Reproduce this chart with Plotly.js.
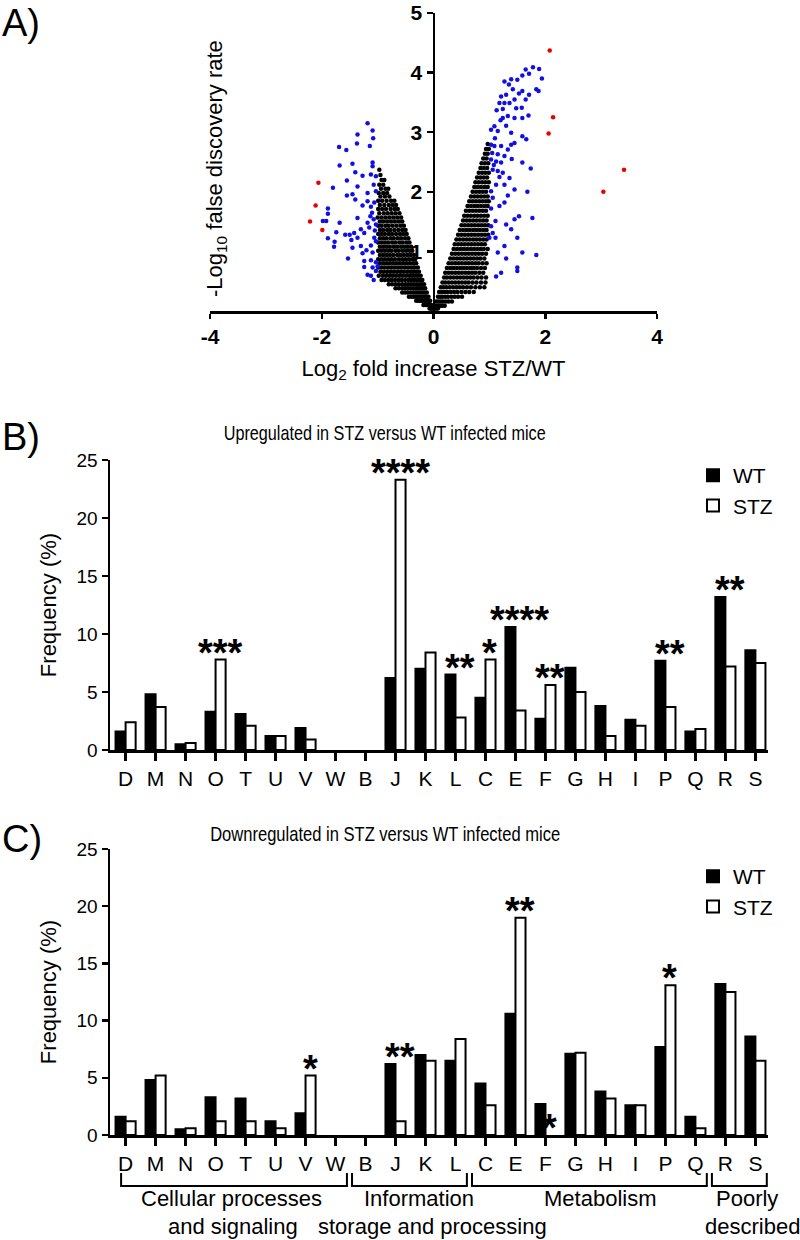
<!DOCTYPE html>
<html>
<head>
<meta charset="utf-8">
<script src="https://cdn.plot.ly/plotly-3.0.1.min.js"></script>
<style>html,body{margin:0;padding:0;background:#fff;}#chart{width:800px;height:1240px;}</style>
</head>
<body>
<div id="chart"></div>
<script>
// ---------- Panel A: volcano plot ----------
// Not significant (black) points, rows of [y, [x values]]
const nsRowsLeft = [
  [2.37, [-0.97]],
  [2.28, [-0.95]],
  [2.2, [-0.93, -0.88]],
  [2.12, [-0.97, -0.9]],
  [2.05, [-0.94, -0.86, -0.81]],
  [1.98, [-0.98, -0.9, -0.83]],
  [1.92, [-0.95, -0.87, -0.79]],
  [1.85, [-0.99, -0.92, -0.84, -0.76, -0.7]],
  [1.78, [-0.96, -0.88, -0.8, -0.73, -0.67]],
  [1.71, [-0.99, -0.92, -0.85, -0.77, -0.7, -0.64]],
  [1.64, [-0.97, -0.89, -0.82, -0.75, -0.68, -0.61]],
  [1.57, [-1.0, -0.93, -0.86, -0.79, -0.72, -0.65, -0.58]],
  [1.5, [-0.96, -0.9, -0.83, -0.76, -0.69, -0.62, -0.56]],
  [1.43, [-0.99, -0.93, -0.86, -0.8, -0.73, -0.66, -0.59, -0.53]],
  [1.36, [-0.96, -0.9, -0.83, -0.77, -0.7, -0.63, -0.56, -0.5]],
  [1.29, [-0.99, -0.93, -0.87, -0.8, -0.74, -0.67, -0.6, -0.54, -0.48]],
  [1.22, [-0.96, -0.9, -0.84, -0.77, -0.71, -0.64, -0.58, -0.51, -0.45]],
  [1.15, [-0.99, -0.93, -0.87, -0.81, -0.74, -0.68, -0.61, -0.55, -0.48, -0.43]],
  [1.08, [-0.96, -0.9, -0.84, -0.78, -0.71, -0.65, -0.58, -0.52, -0.46, -0.4]],
  [1.01, [-0.99, -0.93, -0.87, -0.81, -0.75, -0.68, -0.62, -0.55, -0.49, -0.43, -0.38]],
  [0.94, [-0.96, -0.9, -0.84, -0.78, -0.72, -0.65, -0.59, -0.53, -0.47, -0.41, -0.35]],
  [0.87, [-0.99, -0.93, -0.87, -0.81, -0.75, -0.69, -0.62, -0.56, -0.5, -0.44, -0.38, -0.33]],
  [0.8, [-0.96, -0.9, -0.84, -0.78, -0.72, -0.66, -0.6, -0.54, -0.48, -0.42, -0.36, -0.31]],
  [0.73, [-0.99, -0.93, -0.87, -0.81, -0.75, -0.69, -0.63, -0.57, -0.51, -0.45, -0.39, -0.34, -0.28]],
  [0.66, [-0.95, -0.89, -0.83, -0.77, -0.71, -0.65, -0.59, -0.53, -0.47, -0.41, -0.36, -0.31, -0.26]],
  [0.59, [-0.98, -0.91, -0.85, -0.79, -0.73, -0.67, -0.61, -0.55, -0.49, -0.43, -0.38, -0.33, -0.28, -0.23]],
  [0.52, [-0.93, -0.87, -0.81, -0.75, -0.69, -0.63, -0.57, -0.51, -0.45, -0.4, -0.35, -0.3, -0.25, -0.2]],
  [0.45, [-0.8, -0.74, -0.68, -0.62, -0.56, -0.5, -0.45, -0.4, -0.35, -0.3, -0.25, -0.21, -0.17]],
  [0.38, [-0.68, -0.62, -0.56, -0.51, -0.46, -0.41, -0.36, -0.31, -0.27, -0.23, -0.19, -0.15]],
  [0.31, [-0.56, -0.51, -0.46, -0.41, -0.36, -0.32, -0.28, -0.24, -0.2, -0.16, -0.12]],
  [0.24, [-0.44, -0.39, -0.35, -0.31, -0.27, -0.23, -0.19, -0.15, -0.12, -0.09]],
  [0.17, [-0.31, -0.27, -0.23, -0.2, -0.17, -0.14, -0.11, -0.08, -0.06]],
  [0.1, [-0.18, -0.15, -0.12, -0.1, -0.08, -0.06, -0.04]],
  [0.04, [-0.07, -0.05, -0.03, -0.02]]
];
const nsRowsRight = [
  [2.8, [0.97]],
  [2.72, [0.94, 0.99]],
  [2.64, [0.92, 0.97]],
  [2.56, [0.89, 0.95]],
  [2.48, [0.86, 0.92, 0.98]],
  [2.4, [0.84, 0.9, 0.96]],
  [2.32, [0.81, 0.87, 0.93, 0.99]],
  [2.24, [0.78, 0.84, 0.9, 0.96]],
  [2.16, [0.75, 0.81, 0.87, 0.93, 0.99]],
  [2.08, [0.73, 0.79, 0.85, 0.91, 0.97]],
  [2.0, [0.7, 0.76, 0.82, 0.88, 0.94]],
  [1.92, [0.67, 0.73, 0.79, 0.85, 0.91, 0.97]],
  [1.84, [0.64, 0.7, 0.76, 0.82, 0.88, 0.94, 0.99]],
  [1.76, [0.61, 0.67, 0.73, 0.79, 0.85, 0.91, 0.97]],
  [1.68, [0.58, 0.64, 0.7, 0.76, 0.82, 0.88, 0.94]],
  [1.6, [0.55, 0.61, 0.67, 0.73, 0.79, 0.85, 0.91, 0.97]],
  [1.52, [0.53, 0.59, 0.65, 0.71, 0.77, 0.83, 0.89, 0.95]],
  [1.44, [0.5, 0.56, 0.62, 0.68, 0.74, 0.8, 0.86, 0.92, 0.98]],
  [1.36, [0.47, 0.53, 0.59, 0.65, 0.71, 0.77, 0.83, 0.89, 0.95]],
  [1.28, [0.44, 0.5, 0.56, 0.62, 0.68, 0.74, 0.8, 0.86, 0.92, 0.98]],
  [1.2, [0.41, 0.47, 0.53, 0.59, 0.65, 0.71, 0.77, 0.83, 0.89, 0.95]],
  [1.12, [0.38, 0.44, 0.5, 0.56, 0.62, 0.68, 0.74, 0.8, 0.86, 0.92]],
  [1.04, [0.36, 0.42, 0.48, 0.54, 0.6, 0.66, 0.72, 0.78, 0.84, 0.9, 0.97]],
  [0.96, [0.33, 0.39, 0.45, 0.51, 0.57, 0.63, 0.69, 0.75, 0.81, 0.87, 0.94]],
  [0.88, [0.3, 0.36, 0.42, 0.48, 0.54, 0.6, 0.66, 0.72, 0.78, 0.84, 0.91]],
  [0.8, [0.27, 0.33, 0.39, 0.45, 0.51, 0.57, 0.63, 0.69, 0.75, 0.81, 0.88, 0.95]],
  [0.72, [0.24, 0.3, 0.36, 0.42, 0.48, 0.54, 0.6, 0.66, 0.72, 0.78, 0.85, 0.92]],
  [0.64, [0.21, 0.27, 0.33, 0.39, 0.45, 0.51, 0.57, 0.63, 0.69, 0.75, 0.82, 0.89]],
  [0.56, [0.19, 0.24, 0.3, 0.36, 0.42, 0.48, 0.54, 0.6, 0.66, 0.72, 0.79, 0.86, 0.94]],
  [0.48, [0.16, 0.21, 0.27, 0.33, 0.39, 0.45, 0.51, 0.57, 0.63, 0.7, 0.77, 0.85, 0.93]],
  [0.4, [0.13, 0.18, 0.23, 0.29, 0.35, 0.41, 0.47, 0.53, 0.6, 0.67, 0.75, 0.83, 0.91]],
  [0.32, [0.1, 0.15, 0.2, 0.25, 0.31, 0.37, 0.43, 0.5, 0.57, 0.64, 0.72]],
  [0.24, [0.08, 0.12, 0.16, 0.21, 0.26, 0.32, 0.38, 0.44, 0.51]],
  [0.16, [0.05, 0.09, 0.13, 0.17, 0.22, 0.27, 0.33]],
  [0.09, [0.03, 0.06, 0.09, 0.12, 0.16, 0.2]],
  [0.04, [0.01, 0.03, 0.05, 0.08]]
];
// Significant (blue) points [x, y]
const sigDown = [
  [-1.18,3.15],[-1.09,3.03],[-1.36,2.96],[-1.08,2.9],[-1.69,2.75],[-1.56,2.70],[-1.14,2.77],[-1.37,2.81],
  [-1.45,2.47],[-1.68,2.44],[-1.09,2.49],[-1.09,2.43],[-1.40,2.33],[-1.27,2.27],[-1.12,2.29],[-1.03,2.26],
  [-1.55,2.19],[-1.36,2.09],[-1.07,2.12],[-1.80,2.07],[-1.55,1.94],[-1.45,1.96],[-1.40,1.87],[-1.18,1.98],
  [-1.03,2.01],[-1.18,1.84],[-1.27,1.77],[-1.06,1.82],[-1.12,1.75],[-1.89,1.72],[-1.89,1.63],[-1.98,1.51],
  [-1.92,1.51],[-1.68,1.48],[-1.36,1.56],[-1.13,1.59],[-1.07,1.54],[-1.18,1.48],[-1.03,1.45],[-1.74,1.32],
  [-1.58,1.28],[-1.50,1.28],[-1.42,1.31],[-1.30,1.37],[-1.24,1.31],[-1.89,1.22],[-1.77,1.16],[-1.47,1.19],
  [-1.36,1.23],[-1.06,1.23],[-1.03,1.17],[-1.78,1.08],[-1.45,1.06],[-1.30,1.09],[-1.12,1.10],[-1.27,0.97],
  [-1.09,0.98],[-1.53,0.88],[-1.24,0.84],[-1.12,0.85],[-1.03,0.82],[-1.24,0.74],[-1.09,0.73],[-1.03,0.67],
  [-1.18,0.61],[-1.07,0.52],[-1.12,0.59],[-1.00,0.75],[-1.10,1.65],[-1.15,1.40],[-1.05,1.35],[-1.20,1.02]
];
const sigUp = [
  [1.89,4.06],[1.78,4.09],[1.94,3.90],[1.65,4.05],[1.71,3.98],[1.59,3.95],[1.50,3.88],[1.39,3.89],
  [1.27,3.85],[1.84,3.72],[1.88,3.69],[1.71,3.63],[1.59,3.69],[1.53,3.65],[1.42,3.72],[1.30,3.63],
  [1.21,3.60],[1.65,3.55],[1.45,3.55],[1.36,3.49],[1.27,3.49],[1.18,3.49],[1.58,3.41],[1.24,3.39],
  [1.13,3.37],[1.33,3.27],[1.45,3.24],[1.59,3.24],[1.70,3.28],[1.24,3.24],[1.09,3.10],[1.30,3.11],
  [1.03,3.04],[1.15,3.02],[1.39,2.99],[1.59,2.93],[1.66,2.88],[1.45,2.82],[1.03,2.79],[1.09,2.77],
  [1.21,2.77],[1.33,2.71],[1.39,2.79],[1.15,2.63],[1.27,2.60],[1.03,2.54],[1.12,2.51],[1.21,2.49],
  [1.59,2.49],[1.74,2.39],[1.06,2.37],[1.15,2.35],[1.24,2.32],[1.36,2.23],[1.27,2.12],[1.12,2.12],
  [1.68,2.00],[1.45,2.04],[1.03,2.01],[1.06,1.90],[1.33,1.94],[1.27,1.82],[1.18,1.76],[1.03,1.72],
  [1.53,1.59],[1.77,1.56],[1.45,1.54],[1.11,1.51],[1.30,1.45],[1.03,1.42],[1.39,1.37],[1.06,1.31],
  [1.00,1.23],[1.11,1.23],[1.50,1.23],[1.27,1.09],[1.15,0.98],[1.59,0.98],[1.30,0.88],[1.84,0.94],
  [1.50,0.73],[1.50,0.67],[1.21,0.64],[1.12,0.58],[1.35,3.80],[1.48,3.40],[1.10,2.90],[1.20,3.20],
  [1.05,2.65],[1.18,2.25],[1.40,2.55],[1.08,2.45]
];
// Extreme (red) points [x, y]
const extreme = [
  [2.08,4.37],[2.14,3.25],[2.06,2.98],[3.41,2.37],[3.04,2.00],
  [-2.06,2.15],[-2.11,1.77],[-2.21,1.50],[-1.99,1.36]
];
const volcanoXTicks = [-4, -2, 0, 2, 4];
const volcanoXTickText = ['-4', '-2', '0', '2', '4'];
const volcanoYTicks = [1, 2, 3, 4, 5];

// ---------- Panels B and C: COG category frequencies ----------
const categories = ['D','M','N','O','T','U','V','W','B','J','K','L','C','E','F','G','H','I','P','Q','R','S'];
const upWT   = [1.6,4.8,0.5,3.3,3.1,1.2,1.9,0,0,6.2,7.0,6.5,4.5,10.6,2.7,7.1,3.8,2.6,7.7,1.6,13.2,8.6];
const upSTZ  = [2.4,3.7,0.6,7.8,2.1,1.2,0.9,0,0,23.3,8.4,2.8,7.8,3.4,5.6,5.0,1.2,2.1,3.7,1.8,7.2,7.5];
const downWT = [1.6,4.8,0.5,3.3,3.2,1.2,1.9,0,0,6.2,7.0,6.5,4.5,10.6,2.7,7.1,3.8,2.6,7.7,1.6,13.2,8.6];
const downSTZ= [1.2,5.2,0.6,1.2,1.2,0.6,5.2,0,0,1.2,6.5,8.4,2.6,19.0,0,7.2,3.2,2.6,13.1,0.6,12.5,6.5];
const freqTicks = [0, 5, 10, 15, 20, 25];
// significance marks: [category, stars, bar that carries the mark]
const upSig   = [['O','***','max'],['J','****','max'],['L','**','max'],['C','*','max'],['E','****','max'],['F','**','max'],['P','**','max'],['R','**','max']];
const downSig = [['V','*','max'],['J','**','max'],['E','**','max'],['F','*','stz'],['P','*','max']];
// category groups under panel C: [label lines, first category, last category]
const groups = [
  [['Cellular processes','and signaling'], 'D', 'W'],
  [['Information','storage and processing'], 'B', 'L'],
  [['Metabolism'], 'C', 'Q'],
  [['Poorly','described'], 'R', 'S']
];
const seriesNames = ['WT', 'STZ'];
const upTitle = 'Upregulated in STZ versus WT infected mice';
const downTitle = 'Downregulated in STZ versus WT infected mice';

// ---------- helpers ----------
const W = 800, H = 1240;
const px = x => x / W;
const py = y => 1 - y / H;
const FONT = 'Liberation Sans, Arial, Helvetica, sans-serif';

function flattenRows(rows) {
  const xs = [], ys = [];
  rows.forEach(([y, list]) => list.forEach(x => { xs.push(x); ys.push(y); }));
  return {xs, ys};
}
const nsL = flattenRows(nsRowsLeft), nsR = flattenRows(nsRowsRight);
const sigAll = sigDown.concat(sigUp);
const outline = vals => vals.map(v => v > 0 ? 2 : 0);

const traces = [
  {type:'scatter', mode:'markers', x: nsL.xs.concat(nsR.xs), y: nsL.ys.concat(nsR.ys),
   marker:{color:'#000', size:4.5}, xaxis:'x', yaxis:'y', showlegend:false, hoverinfo:'skip'},
  {type:'scatter', mode:'markers', x: sigAll.map(p=>p[0]), y: sigAll.map(p=>p[1]),
   marker:{color:'#1010e6', size:4.5}, xaxis:'x', yaxis:'y', showlegend:false, hoverinfo:'skip'},
  {type:'scatter', mode:'markers', x: extreme.map(p=>p[0]), y: extreme.map(p=>p[1]),
   marker:{color:'#e60000', size:4.5}, xaxis:'x', yaxis:'y', showlegend:false, hoverinfo:'skip'},

  {type:'bar', name:seriesNames[0], x:categories, y:upWT, xaxis:'x2', yaxis:'y2', legend:'legend',
   marker:{color:'#000', line:{color:'#000', width:outline(upWT)}}},
  {type:'bar', name:seriesNames[1], x:categories, y:upSTZ, xaxis:'x2', yaxis:'y2', legend:'legend',
   marker:{color:'#fff', line:{color:'#000', width:outline(upSTZ)}}},
  {type:'bar', name:seriesNames[0], x:categories, y:downWT, xaxis:'x3', yaxis:'y3', legend:'legend2',
   marker:{color:'#000', line:{color:'#000', width:outline(downWT)}}},
  {type:'bar', name:seriesNames[1], x:categories, y:downSTZ, xaxis:'x3', yaxis:'y3', legend:'legend2',
   marker:{color:'#fff', line:{color:'#000', width:outline(downSTZ)}}}
];

const axLine = {showline:true, linecolor:'#000', linewidth:2.5, showgrid:false, zeroline:false,
                ticks:'outside', tickcolor:'#000', tickwidth:2.5, fixedrange:true, ticklabeloverflow:'allow'};

const barX = (dom, anchor) => Object.assign({}, axLine, {
  domain: dom, anchor: anchor, type:'category', range:[-0.52, 21.42], ticklen:8,
  tickfont:{family:FONT, size:21, color:'#000'}
});
const barY = (dom, anchor) => Object.assign({}, axLine, {
  domain: dom, anchor: anchor, range:[0,25], tickvals:freqTicks, ticklen:6,
  tickfont:{family:FONT, size:19, color:'#000'},
  title:{text:'Frequency (%)', font:{family:FONT, size:22, color:'#000'}, standoff:14}
});

const annotations = [
  {text:'A)', x:0, y:py(0), xref:'paper', yref:'paper', xanchor:'left', yanchor:'top', showarrow:false, font:{family:FONT, size:38}},
  {text:'B)', x:0, y:py(437), xref:'paper', yref:'paper', xanchor:'left', yanchor:'middle', showarrow:false, font:{family:FONT, size:38}},
  {text:'C)', x:0, y:py(839), xref:'paper', yref:'paper', xanchor:'left', yanchor:'middle', showarrow:false, font:{family:FONT, size:38}},
  {text:'-Log<sub>10</sub> false discovery rate', x:px(216), y:py(169), xref:'paper', yref:'paper', textangle:-90,
   xanchor:'center', yanchor:'middle', showarrow:false, font:{family:FONT, size:22}},
  {text:upTitle, x:px(384), y:py(433), xref:'paper', yref:'paper', xanchor:'center', yanchor:'middle', showarrow:false, font:{family:FONT, size:21}},
  {text:downTitle, x:px(385), y:py(833), xref:'paper', yref:'paper', xanchor:'center', yanchor:'middle', showarrow:false, font:{family:FONT, size:21}}
];

function addSig(list, wt, stz, xa, ya) {
  list.forEach(([cat, stars, over]) => {
    const i = categories.indexOf(cat);
    const base = over === 'stz' ? stz[i] : Math.max(wt[i], stz[i]);
    annotations.push({text:stars, x:i + 0.15, y:base, xref:xa, yref:ya, xanchor:'center', yanchor:'bottom',
      yshift:-16, showarrow:false, font:{family:FONT, size:38, weight:'bold', color:'#000'}});
  });
}
addSig(upSig, upWT, upSTZ, 'x2', 'y2');
addSig(downSig, downWT, downSTZ, 'x3', 'y3');

const shapes = [];
const brTop = 1173, brBot = 1186, lineY = [1198, 1226];
groups.forEach(([lines, c0, c1], gi) => {
  const i0 = categories.indexOf(c0) - (gi === 0 ? 0.15 : 0.45);
  const i1 = categories.indexOf(c1) + 0.38;
  shapes.push({type:'path', xref:'x3', yref:'paper',
    path:`M${i0},${py(brTop)} L${i0},${py(brBot)} L${i1},${py(brBot)} L${i1},${py(brTop)}`,
    line:{color:'#000', width:2}});
});
// group labels
const groupLabelPos = [[232, 233], [419, 432], [600], [747, 752]];
groups.forEach(([lines], gi) => {
  lines.forEach((t, li) => {
    annotations.push({text:t, x:px(groupLabelPos[gi][li]), y:py(lineY[li]), xref:'paper', yref:'paper',
      xanchor:'center', yanchor:'middle', showarrow:false, font:{family:FONT, size:22, color:'#000'}});
  });
});

const legendStyle = {xanchor:'left', yanchor:'top', bgcolor:'rgba(0,0,0,0)', borderwidth:0,
  font:{family:FONT, size:21, color:'#000'}, tracegroupgap:0, itemclick:false, itemdoubleclick:false};

const layout = {
  width:W, height:H, margin:{l:0, r:0, t:0, b:0},
  paper_bgcolor:'#fff', plot_bgcolor:'rgba(0,0,0,0)',
  font:{family:FONT, color:'#000'},
  barmode:'group', bargap:0.33, bargroupgap:0,
  showlegend:true,
  xaxis: Object.assign({}, axLine, {
    domain:[px(210), px(657)], anchor:'y', range:[-4,4], ticklen:5,
    tickvals:volcanoXTicks, ticktext:volcanoXTickText.map(t => '<b>' + t + '</b>'),
    tickfont:{family:FONT, size:21, color:'#000'},
    title:{text:'Log<sub>2</sub> fold increase STZ/WT', font:{family:FONT, size:22, color:'#000'}, standoff:14}
  }),
  yaxis: Object.assign({}, axLine, {
    domain:[py(311), py(13)], anchor:'free', position:(px(210)+px(657))/2, range:[0,5],
    tickvals:volcanoYTicks, ticktext:volcanoYTicks.map(t => '<b>' + t + '</b>'), ticklen:6,
    tickfont:{family:FONT, size:21, color:'#000'}
  }),
  xaxis2: barX([px(110), px(768)], 'y2'),
  yaxis2: barY([py(750), py(460)], 'x2'),
  xaxis3: barX([px(110), px(768)], 'y3'),
  yaxis3: barY([py(1135), py(849)], 'x3'),
  legend: Object.assign({}, legendStyle, {x:px(693), y:py(455)}),
  legend2: Object.assign({}, legendStyle, {x:px(693), y:py(856)}),
  annotations: annotations,
  shapes: shapes
};

// The panel titles use a condensed face in the reference; squeeze them to the same width.
const titleWidths = {};
titleWidths[upTitle] = 322;
titleWidths[downTitle] = 350;

Plotly.newPlot('chart', traces, layout, {displayModeBar:false, staticPlot:true}).then(gd => {
  gd.querySelectorAll('text.annotation-text').forEach(t => {
    const w = titleWidths[t.textContent];
    if (w) {
      t.setAttribute('textLength', w);
      t.setAttribute('lengthAdjust', 'spacingAndGlyphs');
    }
  });
});
</script>
</body>
</html>
